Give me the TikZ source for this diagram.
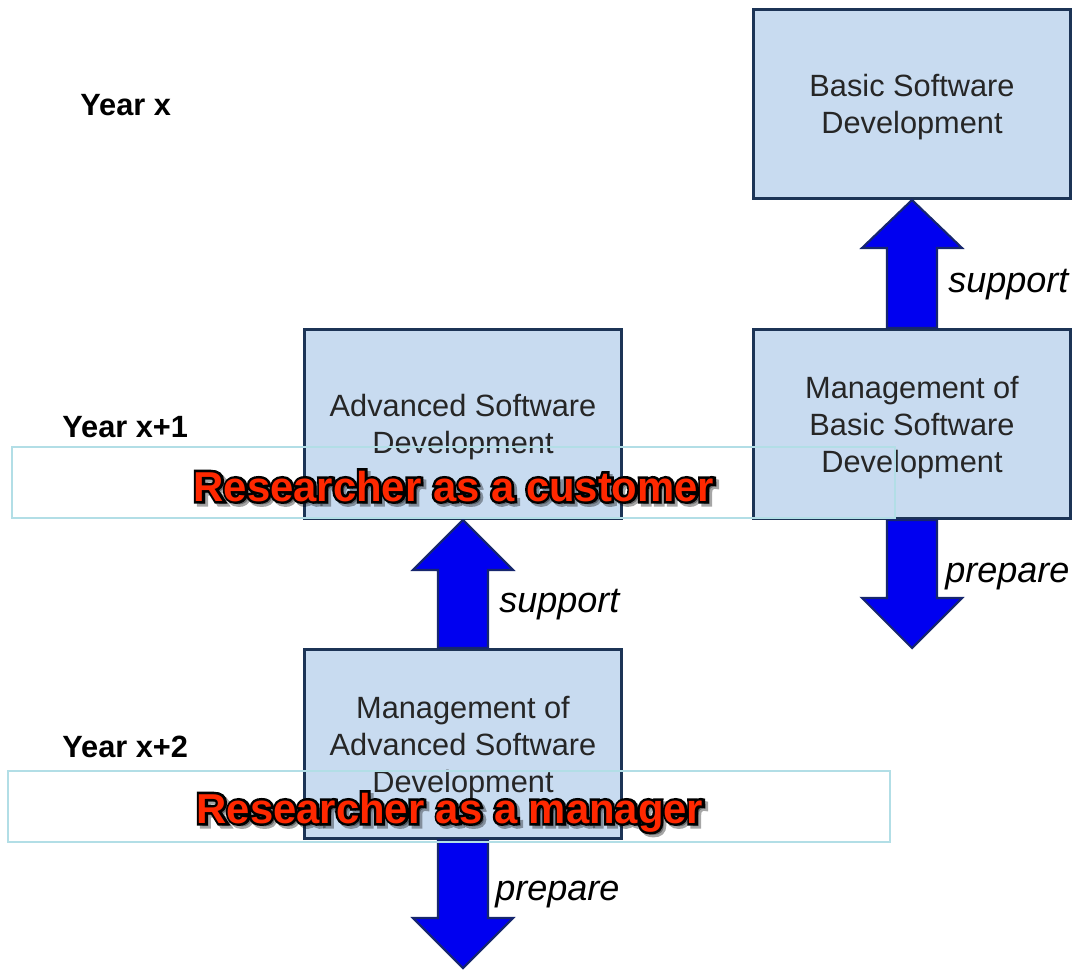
\documentclass[tikz,border=0pt]{standalone}
\usepackage{fontspec}
\setmainfont{Liberation Sans}
\newfontfamily\roleOutline[FakeBold=12]{Liberation Sans Bold}
\usepackage{tikz}
\usetikzlibrary{positioning}
\usetikzlibrary{calc}
\definecolor{boxFill}{RGB}{200,219,240}
\definecolor{boxLine}{RGB}{28,52,86}
\definecolor{arrowFill}{RGB}{0,0,240}
\definecolor{arrowLine}{RGB}{22,38,110}
\definecolor{bandLine}{RGB}{178,222,230}
\definecolor{roleRed}{RGB}{255,40,0}

\begin{document}
\begin{tikzpicture}[x=0.02cm,y=-0.02cm]

          \tikzstyle{taskNode} = [draw=boxLine, line width=1.7pt, fill=boxFill, minimum width=6.34cm, minimum height=3.78cm, align=center, text depth=-2pt, text=black!85, font={\fontsize{17.5}{21}\selectfont}];
          \tikzstyle{yearNode} = [anchor=base west, inner sep=0pt, font={\fontsize{17.5}{21}\selectfont\bfseries}];
          \tikzstyle{verbNode} = [anchor=base west, inner sep=0pt, font={\fontsize{20.5}{24}\selectfont\itshape}];
          \tikzstyle{roleNode} = [anchor=base, text=roleRed, font={\fontsize{23.8}{28}\selectfont\bfseries}];
          \tikzstyle{edgeNode} = [anchor=base, text=black, font={\fontsize{23.8}{28}\selectfont\roleOutline}];

          \tikzstyle{blockArrow} = [fill=arrowFill, draw=arrowLine, line width=1.2pt, line join=miter];
          \tikzstyle{bandEdge} = [draw=bandLine, line width=1pt];

          \useasboundingbox (0,0) rectangle (1076,971);

          \node[taskNode] (bsd) at (912,104) {Basic Software\\Development};
          \node[taskNode] (mbsd) at (912,424) {Management of\\Basic Software\\Development};
          \node[taskNode] (asd) at (463,424) {Advanced Software\\Development};
          \node[taskNode] (masd) at (463,744) {Management of\\Advanced Software\\Development};

          \node[yearNode] (yx) at (80,115) {Year x};
          \node[yearNode] (yx1) at (62,437) {Year x+1};
          \node[yearNode] (yx2) at (62,757) {Year x+2};

          \coordinate (prepB) at (912,648);
          \coordinate (prepA) at (463,968);

          \draw[blockArrow] ($(mbsd.north)+(-25,0)$) -- ($(bsd.south)+(-25,48)$) -- ($(bsd.south)+(-50,48)$) -- (bsd.south)
            -- ($(bsd.south)+(50,48)$) -- ($(bsd.south)+(25,48)$) -- ($(mbsd.north)+(25,0)$) -- cycle;
          \draw[blockArrow] ($(masd.north)+(-25,0)$) -- ($(asd.south)+(-25,50)$) -- ($(asd.south)+(-50,50)$) -- (asd.south)
            -- ($(asd.south)+(50,50)$) -- ($(asd.south)+(25,50)$) -- ($(masd.north)+(25,0)$) -- cycle;
          \draw[blockArrow] ($(mbsd.south)+(-25,0)$) -- ($(prepB)+(-25,-50)$) -- ($(prepB)+(-50,-50)$) -- (prepB)
            -- ($(prepB)+(50,-50)$) -- ($(prepB)+(25,-50)$) -- ($(mbsd.south)+(25,0)$) -- cycle;
          \draw[blockArrow] ($(masd.south)+(-25,0)$) -- ($(prepA)+(-25,-50)$) -- ($(prepA)+(-50,-50)$) -- (prepA)
            -- ($(prepA)+(50,-50)$) -- ($(prepA)+(25,-50)$) -- ($(masd.south)+(25,0)$) -- cycle;

          \node[verbNode] (supB) at (948,292) {support};
          \node[verbNode] (supA) at (499,612) {support};
          \node[verbNode] (preB) at (945,582) {prepare};
          \node[verbNode] (preA) at (495,900) {prepare};

          % role bands
          \draw[bandEdge] (12,447) rectangle (895,518);
          \draw[bandEdge] (8,771) rectangle (890,842);

          \node[edgeNode, opacity=0.35] (custShadow) at (457,504) {Researcher as a customer};
          \node[edgeNode] (custEdge) at (454,501) {Researcher as a customer};
          \node[roleNode] (cust) at (454,501) {Researcher as a customer};
          \node[edgeNode, opacity=0.35] (manShadow) at (453,826) {Researcher as a manager};
          \node[edgeNode] (manEdge) at (450,823) {Researcher as a manager};
          \node[roleNode] (man) at (450,823) {Researcher as a manager};
        \end{tikzpicture}
\end{document}
